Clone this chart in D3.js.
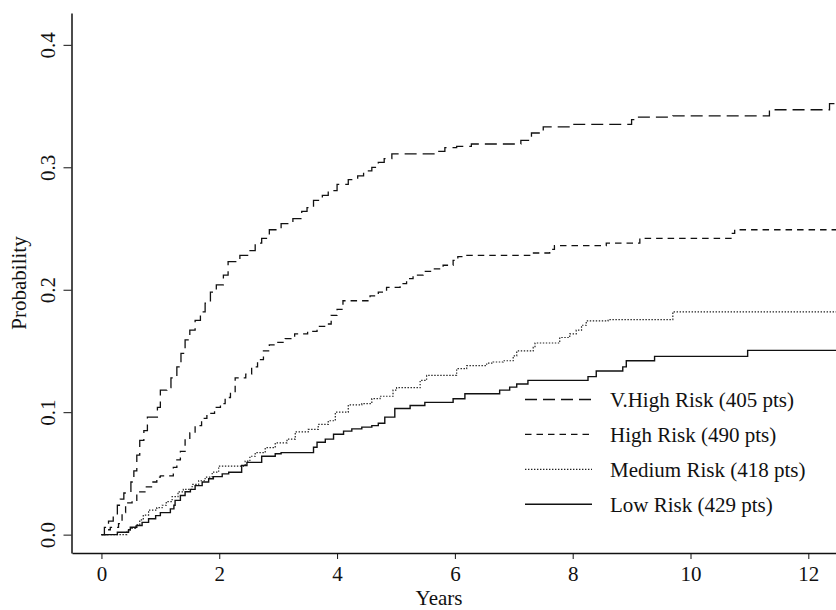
<!DOCTYPE html>
<html>
<head>
<meta charset="utf-8">
<script src="https://cdn.jsdelivr.net/npm/d3@7"></script>
<style>
  body { margin: 0; background: #fff; }
  text { font-family: "Liberation Serif", "Times New Roman", serif; fill: #111; }
</style>
</head>
<body>
<svg id="chart" width="836" height="610"></svg>
<script>
// tick labels
const yearTicks = [0, 2, 4, 6, 8, 10, 12];
const probTicks = [0, 0.1, 0.2, 0.3, 0.4];

const seriesNames = ["V.High Risk (405 pts)", "High Risk (490 pts)", "Medium Risk (418 pts)", "Low Risk (429 pts)"];

// cumulative probability, [years, probability] at each step
const vHighRisk = [[0,0],[0.05,0.006],[0.12,0.011],[0.2,0.016],[0.27,0.024],[0.32,0.029],[0.38,0.034],
  [0.5,0.043],[0.55,0.052],[0.6,0.065],[0.65,0.077],[0.72,0.085],[0.78,0.096],[0.95,0.104],[1.0,0.118],
  [1.11,0.12],[1.18,0.128],[1.28,0.137],[1.35,0.148],[1.42,0.159],[1.5,0.167],[1.59,0.175],[1.68,0.182],
  [1.76,0.189],[1.85,0.198],[1.95,0.204],[2.07,0.212],[2.15,0.223],[2.35,0.228],[2.5,0.232],[2.61,0.238],
  [2.72,0.242],[2.85,0.249],[3.05,0.254],[3.25,0.258],[3.4,0.264],[3.49,0.267],[3.6,0.273],[3.75,0.277],
  [3.85,0.281],[4.0,0.286],[4.19,0.29],[4.35,0.293],[4.45,0.297],[4.59,0.3],[4.7,0.304],[4.8,0.307],
  [4.93,0.311],[5.69,0.313],[5.83,0.316],[6.03,0.317],[6.28,0.319],[7.12,0.322],[7.3,0.328],[7.5,0.333],
  [8.0,0.335],[9.0,0.339],[9.08,0.341],[9.7,0.342],[11.34,0.347],[12.36,0.352]];

const highRisk = [[0,0],[0.1,0.004],[0.15,0.006],[0.29,0.009],[0.35,0.018],[0.41,0.026],[0.52,0.028],
  [0.6,0.035],[0.75,0.039],[0.85,0.043],[0.94,0.047],[1.0,0.048],[1.22,0.055],[1.28,0.061],[1.34,0.068],
  [1.42,0.078],[1.5,0.083],[1.59,0.089],[1.7,0.095],[1.79,0.099],[1.92,0.104],[2.02,0.107],[2.1,0.112],
  [2.19,0.116],[2.27,0.128],[2.45,0.131],[2.55,0.137],[2.65,0.143],[2.75,0.15],[2.85,0.155],[2.98,0.157],
  [3.12,0.16],[3.28,0.164],[3.5,0.166],[3.66,0.17],[3.8,0.172],[3.9,0.179],[4.0,0.184],[4.1,0.191],
  [4.56,0.195],[4.7,0.198],[4.84,0.202],[5.07,0.205],[5.18,0.209],[5.29,0.212],[5.46,0.215],[5.63,0.217],
  [5.8,0.22],[5.97,0.224],[6.05,0.227],[6.17,0.228],[7.27,0.23],[7.61,0.233],[7.69,0.236],[8.57,0.238],
  [9.14,0.242],[10.71,0.246],[10.75,0.249]];

const mediumRisk = [[0,0],[0.43,0.003],[0.49,0.005],[0.58,0.008],[0.65,0.012],[0.71,0.016],[0.8,0.02],
  [0.94,0.022],[1.03,0.024],[1.1,0.027],[1.2,0.031],[1.3,0.035],[1.39,0.037],[1.54,0.041],[1.65,0.044],
  [1.76,0.047],[1.88,0.051],[1.99,0.056],[2.41,0.057],[2.44,0.06],[2.52,0.064],[2.61,0.067],[2.78,0.071],
  [2.95,0.075],[3.15,0.078],[3.29,0.084],[3.51,0.086],[3.68,0.09],[3.85,0.093],[3.97,0.1],[4.19,0.106],
  [4.42,0.107],[4.59,0.111],[4.73,0.113],[4.95,0.118],[5.01,0.12],[5.41,0.126],[5.52,0.13],[6.03,0.1355],
  [6.2,0.138],[6.54,0.14],[6.65,0.141],[6.82,0.142],[6.99,0.146],[7.05,0.15],[7.33,0.153],[7.36,0.1565],
  [7.78,0.161],[7.95,0.164],[8.06,0.167],[8.15,0.171],[8.23,0.1745],[8.6,0.1756],[9.7,0.182]];

const lowRisk = [[0,0],[0.27,0.002],[0.46,0.004],[0.49,0.006],[0.6,0.0074],[0.69,0.01],[0.8,0.013],
  [0.92,0.0155],[1.0,0.018],[1.17,0.021],[1.23,0.024],[1.25,0.028],[1.34,0.032],[1.42,0.035],[1.51,0.037],
  [1.59,0.04],[1.71,0.043],[1.82,0.0456],[1.9,0.0474],[2.05,0.0496],[2.16,0.051],[2.38,0.0564],[2.47,0.059],
  [2.72,0.064],[2.95,0.066],[3.05,0.067],[3.6,0.0714],[3.66,0.0755],[3.8,0.078],[3.94,0.082],[4.11,0.0845],
  [4.25,0.0864],[4.42,0.0878],[4.59,0.089],[4.7,0.091],[4.81,0.096],[4.98,0.103],[5.24,0.1055],[5.49,0.108],
  [5.97,0.111],[6.17,0.115],[6.76,0.118],[6.93,0.1205],[7.05,0.123],[7.24,0.126],[8.26,0.129],[8.4,0.1336],
  [8.85,0.137],[8.91,0.142],[9.39,0.1456],[10.97,0.1505]];

const allSeries = [vHighRisk, highRisk, mediumRisk, lowRisk];

// line look for each series, same order as above
const lineStyles = [
  { dash: "12,6", width: 1.3, color: "#111" },
  { dash: "6.5,5", width: 1.3, color: "#111" },
  { dash: "1.4,1.6", width: 1.2, color: "#222" },
  { dash: null, width: 1.4, color: "#111" }
];

let svg = d3.select("#chart");

let xScale = d3.scaleLinear()
  .domain([-0.5, 12.47])
  .range([72, 836]);

let yScale = d3.scaleLinear()
  .domain([-0.015, 0.426])
  .range([553, 13]);

let xMax = xScale.domain()[1];

let lineMaker = d3.line()
  .x(d => xScale(d[0]))
  .y(d => yScale(d[1]))
  .curve(d3.curveStepAfter);

//draw step curves, each carried on flat to the right edge
svg.selectAll("path.curve")
  .data(allSeries)
  .enter()
  .append("path")
  .attr("class", "curve")
  .attr("fill", "none")
  .attr("stroke", (d, i) => lineStyles[i].color)
  .attr("stroke-width", (d, i) => lineStyles[i].width)
  .attr("stroke-dasharray", (d, i) => lineStyles[i].dash)
  .attr("d", d => lineMaker(d.concat([[xMax, d[d.length - 1][1]]])));

//x-axis
let xAxis = d3.axisBottom(xScale)
  .tickValues(yearTicks)
  .tickFormat(d3.format("d"))
  .tickSize(6)
  .tickSizeOuter(0)
  .tickPadding(7);

svg.append("g")
  .attr("transform", "translate(0,553)")
  .call(xAxis)
  .attr("font-size", 21)
  .attr("font-family", "Liberation Serif, serif")
  .attr("color", "#111")
  .call(g => g.select(".domain").attr("stroke-width", 1.5));

//y-axis, labels turned on their side
let yAxis = d3.axisLeft(yScale)
  .tickValues(probTicks)
  .tickFormat(d3.format(".1f"))
  .tickSize(8)
  .tickSizeOuter(0);

svg.append("g")
  .attr("transform", "translate(71.5,0)")
  .call(yAxis)
  .attr("font-size", 21)
  .attr("font-family", "Liberation Serif, serif")
  .attr("color", "#111")
  .call(g => g.select(".domain").attr("stroke-width", 1.5))
  .call(g => g.selectAll(".tick text")
    .attr("x", null)
    .attr("dy", null)
    .attr("text-anchor", "middle")
    .attr("transform", "translate(-16.5,0) rotate(-90)"));

//axis titles
svg.append("text")
  .attr("x", 439)
  .attr("y", 605)
  .attr("text-anchor", "middle")
  .attr("font-size", 21)
  .text("Years");

svg.append("text")
  .attr("transform", "translate(26,283) rotate(-90)")
  .attr("text-anchor", "middle")
  .attr("font-size", 21)
  .text("Probability");

//legend
let legend = svg.append("g").attr("transform", "translate(525,399.5)");

let rows = legend.selectAll("g")
  .data(seriesNames)
  .enter()
  .append("g")
  .attr("transform", (d, i) => `translate(0,${i * 34.9})`);

rows.append("line")
  .attr("x1", 0)
  .attr("x2", 67)
  .attr("stroke", (d, i) => lineStyles[i].color)
  .attr("stroke-width", (d, i) => lineStyles[i].width)
  .attr("stroke-dasharray", (d, i) => lineStyles[i].dash);

rows.append("text")
  .attr("x", 85)
  .attr("y", 7.5)
  .attr("font-size", 21)
  .text(d => d);
</script>
</body>
</html>
